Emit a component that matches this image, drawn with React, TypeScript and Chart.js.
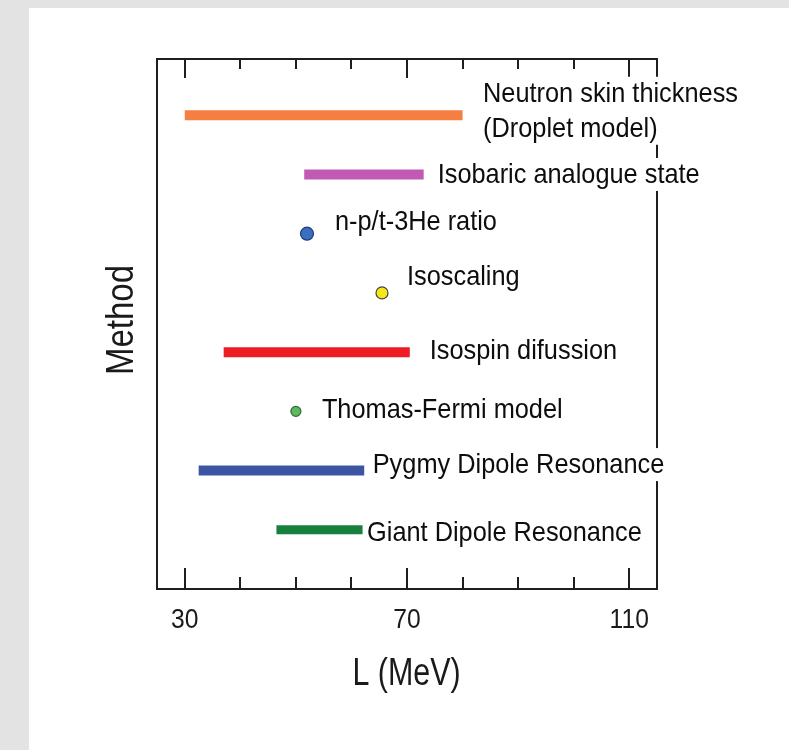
import React, { useEffect, useRef } from 'react';
import { Chart, registerables } from 'chart.js';

Chart.register(...registerables);

// ---- data ----
const methodNames: string[][] = [
  ['Neutron skin thickness', '(Droplet model)'],
  ['Isobaric analogue state'],
  ['n-p/t-3He ratio'],
  ['Isoscaling'],
  ['Isospin difussion'],
  ['Thomas-Fermi model'],
  ['Pygmy Dipole Resonance'],
  ['Giant Dipole Resonance'],
];
const methodRows = [8, 7, 6, 5, 4, 3, 2, 1];
const lowL = [30, 51.5, 52, 65.5, 37, 50, 32.5, 46.5];
const highL = [80, 73, 52, 65.5, 70.5, 50, 62.3, 62];
const xMajorTicks = [30, 70, 110];
const xMinorTicks = [30, 40, 50, 60, 70, 80, 90, 100, 110];
const xTitle = 'L (MeV)';
const yTitle = 'Method';

// ---- styles ----
const markColors = ['#F47F40', '#C05AB4', '#3A6EC0', '#F5E61A', '#EE1C24', '#5DB85F', '#3B55A3', '#17803D'];
const markBorders = ['#F47F40', '#C05AB4', '#1F3F7A', '#444444', '#EE1C24', '#2E6B30', '#3B55A3', '#17803D'];
const dotRadius = [0, 0, 6.5, 6, 0, 5, 0, 0];
const barWidths = [10, 10, 0, 0, 10, 0, 10, 9];
const labelDx = [20.5, 14, 28, 25, 20, 26, 8.5, 4.5];
const labelDy = [-13.5, 8.5, -4, -8, 7, 7, 2.5, 11];

const datasets = methodNames.map((_, i) => {
  const isDot = lowL[i] === highL[i];
  if (isDot) {
    return {
      data: [{ x: lowL[i], y: methodRows[i] }],
      showLine: false,
      pointRadius: dotRadius[i],
      pointBackgroundColor: markColors[i],
      pointBorderColor: markBorders[i],
      pointBorderWidth: 1.2,
    };
  }
  return {
    data: [
      { x: lowL[i], y: methodRows[i] },
      { x: highL[i], y: methodRows[i] },
    ],
    showLine: true,
    borderColor: markColors[i],
    borderWidth: barWidths[i],
    borderCapStyle: 'butt' as const,
    pointRadius: 0,
  };
});

function drawScaledText(
  ctx: CanvasRenderingContext2D,
  text: string,
  x: number,
  y: number,
  sx: number,
  align: CanvasTextAlign,
  rotate = 0
) {
  ctx.save();
  ctx.translate(x, y);
  if (rotate) ctx.rotate(rotate);
  ctx.scale(sx, 1);
  ctx.textAlign = align;
  ctx.textBaseline = 'alphabetic';
  ctx.fillText(text, 0, 0);
  ctx.restore();
}

const decorPlugin = {
  id: 'decor',
  beforeDraw(chart: any) {
    const ctx: CanvasRenderingContext2D = chart.ctx;
    ctx.save();
    ctx.fillStyle = '#e3e3e3';
    ctx.fillRect(0, 0, chart.width, chart.height);
    ctx.fillStyle = '#ffffff';
    ctx.fillRect(29, 8, chart.width - 29, chart.height - 8);
    ctx.restore();
  },
  afterDatasetsDraw(chart: any) {
    const ctx: CanvasRenderingContext2D = chart.ctx;
    const { left, right, top, bottom } = chart.chartArea;
    const xs = chart.scales.x;
    const ys = chart.scales.y;
    ctx.save();
    // frame
    ctx.strokeStyle = '#1e1e1e';
    ctx.lineWidth = 2;
    ctx.strokeRect(left, top, right - left, bottom - top);
    // ticks
    ctx.lineWidth = 2;
    for (const v of xMinorTicks) {
      const px = Math.round(xs.getPixelForValue(v));
      const major = xMajorTicks.includes(v);
      const lb = major ? 21 : 12;
      const lt = major ? 19 : 10;
      ctx.beginPath();
      ctx.moveTo(px, bottom);
      ctx.lineTo(px, bottom - lb);
      ctx.moveTo(px, top);
      ctx.lineTo(px, top + lt);
      ctx.stroke();
    }
    // tick labels
    ctx.fillStyle = '#1a1a1a';
    ctx.font = '28px "Liberation Sans", Arial, sans-serif';
    for (const v of xMajorTicks) {
      drawScaledText(ctx, String(v), xs.getPixelForValue(v), bottom + 39, 0.88, 'center');
    }
    // method labels with white boxes
    ctx.font = '28px "Liberation Sans", Arial, sans-serif';
    const sx = 0.905;
    methodNames.forEach((lines, i) => {
      const endPx = xs.getPixelForValue(highL[i]);
      const cy = ys.getPixelForValue(methodRows[i]);
      const tx = endPx + labelDx[i];
      const by = cy + labelDy[i];
      const lineH = 35;
      let w = 0;
      lines.forEach((l) => {
        w = Math.max(w, ctx.measureText(l).width * sx);
      });
      ctx.fillStyle = '#ffffff';
      ctx.fillRect(tx - 3, by - 25, w + 6, 25 + 8 + (lines.length - 1) * lineH);
      ctx.fillStyle = '#0d0d0d';
      lines.forEach((l, k) => {
        drawScaledText(ctx, l, tx, by + k * lineH, sx, 'left');
      });
    });
    // axis titles
    ctx.fillStyle = '#1a1a1a';
    ctx.font = '39px "Liberation Sans", Arial, sans-serif';
    drawScaledText(ctx, xTitle, (left + right) / 2 - 0.5, 685, 0.78, 'center');
    drawScaledText(ctx, yTitle, 133, 320, 0.846, 'center', -Math.PI / 2);
    ctx.restore();
  },
};

export default function App() {
  const canvasRef = useRef<HTMLCanvasElement | null>(null);

  useEffect(() => {
    if (!canvasRef.current) return;
    const chart = new Chart(canvasRef.current, {
      type: 'scatter',
      data: { datasets: datasets as any },
      options: {
        responsive: false,
        animation: false,
        events: [],
        layout: { padding: { left: 157, right: 132, top: 59, bottom: 161 } },
        plugins: { legend: { display: false }, tooltip: { enabled: false } },
        scales: {
          x: { type: 'linear', min: 25, max: 115, display: false },
          y: { type: 'linear', min: 0, max: 8.95, display: false },
        },
      },
      plugins: [decorPlugin],
    });
    return () => chart.destroy();
  }, []);

  return (
    <div style={{ position: 'fixed', left: 0, top: 0, width: 789, height: 750 }}>
      <canvas ref={canvasRef} width={789} height={750} style={{ display: 'block', width: 789, height: 750 }} />
    </div>
  );
}
